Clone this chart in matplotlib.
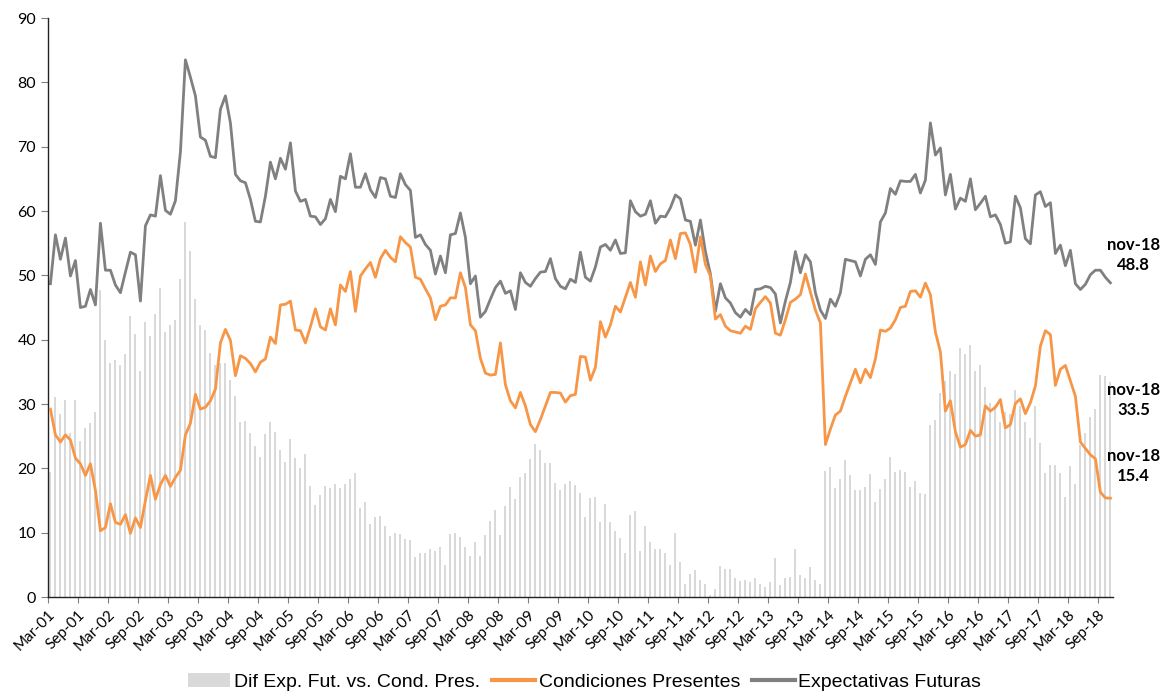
import matplotlib
matplotlib.use('Agg')
import matplotlib.pyplot as plt
import numpy as np
import pandas as pd

# monthly data, Mar-01 .. Nov-18
months = pd.date_range('2001-03-01', periods=213, freq='MS')

expectativas = [
    48.7, 56.3, 52.5, 55.8, 49.9, 52.3, 45.0, 45.2, 47.8, 45.4, 58.1, 50.8,
    50.8, 48.5, 47.3, 50.5, 53.6, 53.2, 46.0, 57.7, 59.4, 59.2, 65.5, 60.1,
    59.5, 61.6, 69.2, 83.5, 80.8, 77.9, 71.5, 71.0, 68.5, 68.3, 75.8, 77.9,
    73.7, 65.7, 64.7, 64.4, 61.8, 58.4, 58.3, 62.3, 67.6, 65.0, 68.2, 66.5,
    70.6, 63.1, 61.5, 61.8, 59.2, 59.1, 57.9, 58.8, 61.8, 59.9, 65.4, 65.0,
    68.9, 63.7, 63.7, 65.8, 63.3, 62.1, 65.2, 65.0, 62.3, 62.1, 65.8, 64.1,
    63.2, 55.9, 56.3, 54.8, 53.9, 50.2, 53.0, 50.4, 56.3, 56.5, 59.7, 55.9,
    48.7, 49.9, 43.5, 44.4, 46.3, 48.1, 49.1, 47.2, 47.6, 44.7, 50.4, 48.9,
    48.3, 49.5, 50.5, 50.6, 52.6, 49.5, 48.3, 47.9, 49.4, 48.9, 53.6, 49.7,
    49.1, 51.3, 54.4, 54.8, 53.9, 55.5, 53.4, 53.5, 61.6, 59.9, 59.2, 59.5,
    61.6, 58.1, 59.2, 59.1, 60.5, 62.5, 61.9, 58.6, 58.4, 54.7, 58.6, 53.7,
    50.2, 44.4, 48.7, 46.5, 45.7, 44.2, 43.5, 44.7, 43.9, 47.8, 47.9, 48.3,
    48.1, 47.1, 42.6, 46.0, 48.9, 53.7, 50.4, 53.2, 52.1, 47.3, 44.6, 43.3,
    46.3, 45.2, 47.3, 52.5, 52.3, 52.1, 49.9, 52.5, 53.2, 51.7, 58.3, 59.7,
    63.5, 62.6, 64.7, 64.6, 64.6, 65.7, 62.8, 64.8, 73.7, 68.7, 69.8, 62.5,
    65.7, 60.3, 62.0, 61.5, 65.0, 60.2, 61.2, 62.3, 59.1, 59.4, 57.9, 55.0,
    55.2, 62.3, 60.5, 55.7, 54.9, 62.5, 63.0, 60.7, 61.3, 53.4, 54.7, 51.5,
    53.9, 48.7, 47.8, 48.6, 50.1, 50.8, 50.8, 49.7, 48.84,
]

condiciones = [
    29.2, 25.2, 24.1, 25.2, 24.4, 21.6, 20.7, 18.9, 20.7, 16.6, 10.3, 10.8,
    14.5, 11.6, 11.3, 12.8, 9.9, 12.3, 10.8, 15.0, 18.9, 15.2, 17.5, 18.9,
    17.2, 18.6, 19.7, 25.2, 27.0, 31.5, 29.2, 29.5, 30.5, 32.3, 39.5, 41.6,
    39.9, 34.4, 37.5, 37.1, 36.3, 35.0, 36.5, 37.0, 40.4, 39.4, 45.4, 45.5,
    46.0, 41.5, 41.4, 39.5, 42.0, 44.8, 42.0, 41.5, 44.8, 42.3, 48.5, 47.5,
    50.6, 44.4, 49.9, 51.0, 52.0, 49.7, 52.6, 53.9, 52.8, 52.1, 56.0, 55.1,
    54.4, 49.7, 49.4, 47.9, 46.5, 43.1, 45.2, 45.4, 46.5, 46.5, 50.4, 48.1,
    42.3, 41.4, 37.1, 34.8, 34.5, 34.6, 39.5, 33.0, 30.5, 29.4, 31.8, 29.7,
    26.8, 25.7, 27.6, 29.7, 31.8, 31.8, 31.7, 30.3, 31.3, 31.5, 37.4, 37.3,
    33.7, 35.7, 42.8, 40.4, 42.3, 45.2, 44.3, 46.6, 48.9, 46.6, 52.1, 48.5,
    53.0, 50.6, 51.8, 52.3, 55.5, 52.6, 56.5, 56.6, 54.8, 50.5, 56.0, 51.7,
    49.9, 43.2, 43.9, 42.1, 41.4, 41.2, 41.0, 42.1, 41.6, 44.8, 45.8, 46.7,
    45.7, 41.0, 40.7, 43.1, 45.8, 46.3, 47.0, 50.2, 47.4, 44.6, 42.6, 23.7,
    26.1, 28.3, 28.9, 31.2, 33.3, 35.4, 33.3, 35.4, 34.1, 37.0, 41.5, 41.3,
    41.8, 43.1, 45.0, 45.2, 47.5, 47.6, 46.6, 48.8, 47.0, 41.2, 38.1, 28.9,
    30.5, 25.7, 23.3, 23.7, 25.9, 25.0, 25.2, 29.7, 28.9, 29.5, 30.7, 26.3,
    26.8, 30.1, 30.8, 28.5, 30.2, 32.8, 39.0, 41.4, 40.8, 32.9, 35.4, 36.0,
    33.6, 31.2, 24.1, 23.1, 22.1, 21.5, 16.3, 15.4, 15.36,
]

exp_arr = np.array(expectativas)
cond_arr = np.array(condiciones)
diferencia = exp_arr - cond_arr   # the gap shown as bars

last_label = months[-1].strftime('%b-%y').lower()

GREY_BAR = '#d9d9d9'
ORANGE = '#f79646'
GREY_LINE = '#808080'

plt.rcParams['font.family'] = ['Lato', 'DejaVu Sans']

fig = plt.figure(figsize=(11.69, 6.93), dpi=100)
ax = fig.add_axes([0.041, 0.1385, 0.911, 0.8355])

x = np.arange(len(months))
b = ax.bar(x, diferencia, width=0.42, color=GREY_BAR, label='Dif Exp. Fut. vs. Cond. Pres.', zorder=1)
l1, = ax.plot(x, cond_arr, color=ORANGE, lw=2.0, label='Condiciones Presentes', zorder=3)
l2, = ax.plot(x, exp_arr, color=GREY_LINE, lw=2.0, label='Expectativas Futuras', zorder=2)

ax.set_xlim(-0.5, len(months) - 0.5)
ax.set_ylim(0, 90)
ax.set_yticks(range(0, 91, 10))

tick_idx = [i for i, d in enumerate(months) if d.month in (3, 9)]
ax.set_xticks([i - 0.5 for i in tick_idx])
ax.set_xticklabels([months[i].strftime('%b-%y') for i in tick_idx],
                   rotation=45, ha='right', rotation_mode='anchor', fontsize=11)
ax.tick_params(axis='y', labelsize=11.5, length=5, color='#808080')
ax.tick_params(axis='x', length=4, color='#808080')

for s in ['top', 'right']:
    ax.spines[s].set_visible(False)
for s in ['left', 'bottom']:
    ax.spines[s].set_color('#222222')
    ax.spines[s].set_linewidth(1.0)

# end-of-series labels
lx = len(months) + 3.6
ax.text(lx, 53.2, f'{last_label}\n{exp_arr[-1]:.1f}', ha='center', va='center',
        fontsize=12, fontweight='bold', linespacing=1.3, clip_on=False)
ax.text(lx, 30.6, f'{last_label}\n{diferencia[-1]:.1f}', ha='center', va='center',
        fontsize=12, fontweight='bold', linespacing=1.3, clip_on=False)
ax.text(lx, 20.3, f'{last_label}\n{cond_arr[-1]:.1f}', ha='center', va='center',
        fontsize=12, fontweight='bold', linespacing=1.3, clip_on=False)

leg = fig.legend([b, l1, l2], [b.get_label(), l1.get_label(), l2.get_label()],
                 loc='center', bbox_to_anchor=(0.5, 0.016), ncol=3, frameon=False,
                 prop={'family': ['Liberation Sans Narrow', 'Liberation Sans', 'DejaVu Sans'], 'size': 14},
                 handlelength=2.2, handletextpad=0.2, columnspacing=0.6)
for h in leg.legend_handles:
    if hasattr(h, 'set_linewidth') and not hasattr(h, 'get_width'):
        h.set_linewidth(3)

fig.savefig('out.png', dpi=100)
